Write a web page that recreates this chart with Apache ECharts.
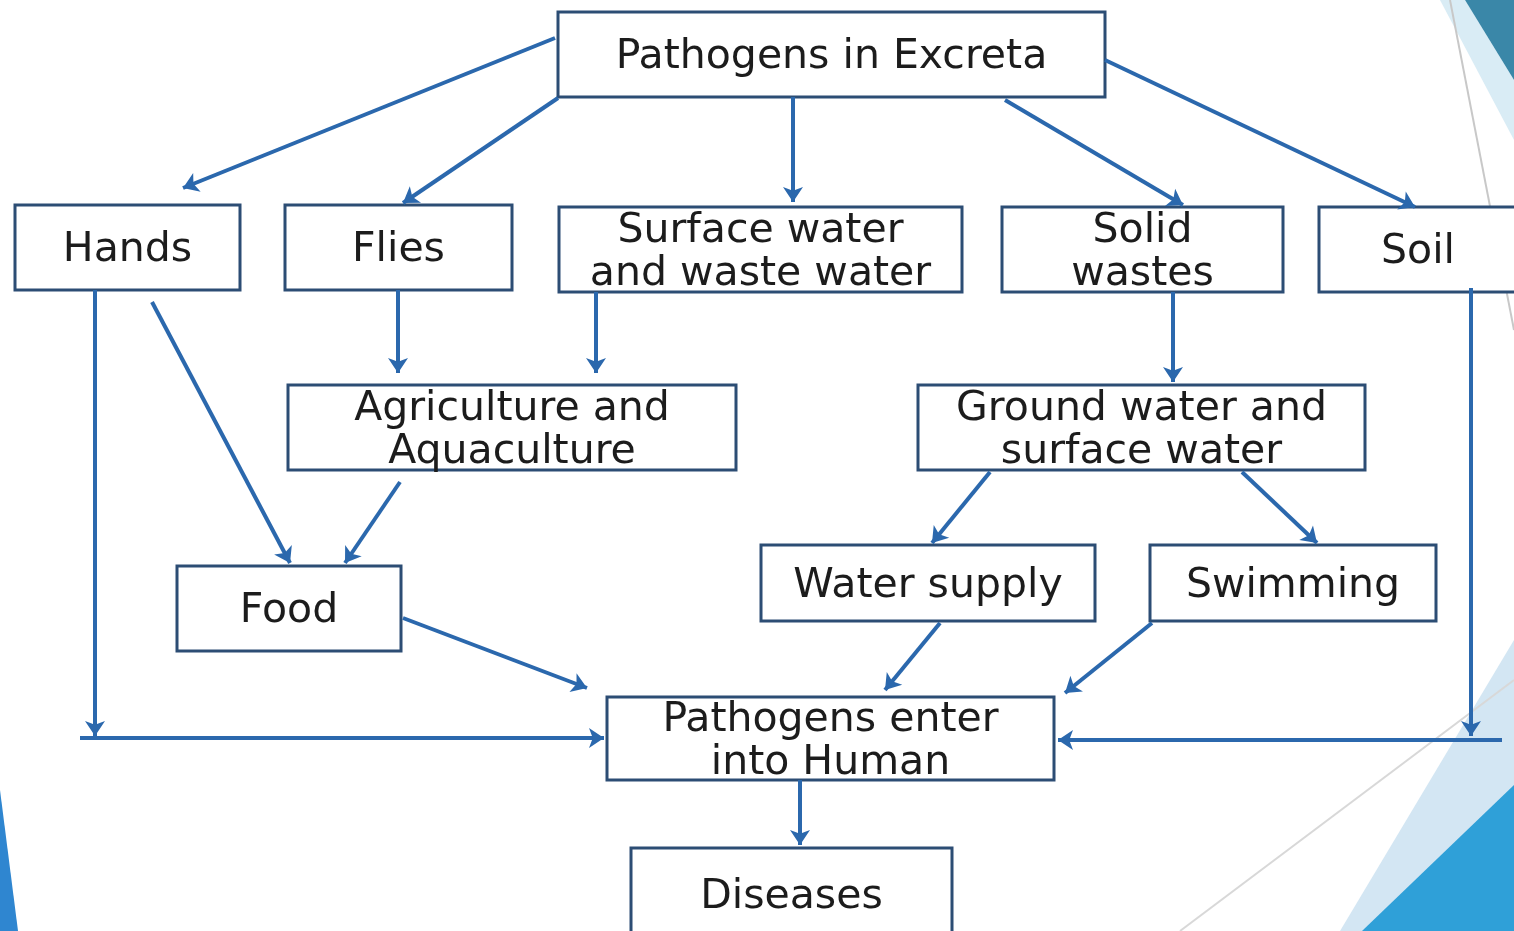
<!DOCTYPE html>
<html><head><meta charset="utf-8">
<script src="https://cdn.jsdelivr.net/npm/echarts@6/dist/echarts.min.js"></script>
<style>html,body{margin:0;padding:0;background:#fff}#c{width:1514px;height:931px}</style>
</head><body><div id="c"></div>
<script>
// ---- data ----
const nodeIds = ['excreta','hands','flies','surface','solid','soil','agri','ground','food','supply','swim','enter','disease'];
const nodeLabels = ['Pathogens in Excreta','Hands','Flies','Surface water\nand waste water','Solid\nwastes','Soil',
  'Agriculture and\nAquaculture','Ground water and\nsurface water','Food','Water supply','Swimming',
  'Pathogens enter\ninto Human','Diseases'];
const edgeFrom = ['excreta','excreta','excreta','excreta','excreta','hands','hands','flies','surface','solid','agri','ground','ground','food','supply','swim','soil','enter'];
const edgeTo   = ['hands','flies','surface','solid','soil','enter','food','agri','agri','ground','food','supply','swim','enter','enter','enter','enter','disease'];

// ---- layout (box corners in pixel space) ----
const boxLayout = {
  excreta:[558,12,1105,97], hands:[15,205,240,290], flies:[285,205,512,290],
  surface:[559,207,962,292], solid:[1002,207,1283,292], soil:[1319,207,1517,292],
  agri:[288,385,736,470], ground:[918,385,1365,470], food:[177,566,401,651],
  supply:[761,545,1095,621], swim:[1150,545,1436,621], enter:[607,697,1054,780],
  disease:[631,848,952,940]
};
// arrow routes per edge (same order as edges)
const arrowRoutes = [
  [[555,38],[183,188]],
  [[558,98],[403,203]],
  [[793,97],[793,202]],
  [[1005,100],[1183,205]],
  [[1105,60],[1415,207]],
  [[95,290],[95,736],[80,738],[604,738]],
  [[152,302],[290,563]],
  [[398,290],[398,373]],
  [[596,292],[596,373]],
  [[1173,292],[1173,382]],
  [[400,482],[345,563]],
  [[990,472],[932,543]],
  [[1242,472],[1317,543]],
  [[403,618],[587,688]],
  [[940,623],[885,690]],
  [[1152,623],[1065,693]],
  [[1471,288],[1471,736],[1502,740],[1058,740]],
  [[800,780],[800,845]]
];

const ARROW = '#2b68ad', BORDER = '#2c4d74', TEXT = '#1c1c1c';

// build arrow segments
const lineData = [];
arrowRoutes.forEach(r => {
  if (r.length === 2) lineData.push({coords: r});
  else {
    lineData.push({coords: [r[0], r[1]]});
    lineData.push({coords: [r[2], r[3]]});
  }
});

const boxData = nodeIds.map((id, i) => ({value: boxLayout[id], name: nodeLabels[i]}));

const chart = echarts.init(document.getElementById('c'), null, {renderer: 'canvas'});
chart.setOption({
  backgroundColor: '#ffffff',
  animation: false,
  graphic: [
    {type:'polygon', z:-10, shape:{points:[[1465,0],[1514,0],[1514,80]]}, style:{fill:'#3a87a8'}},
    {type:'polygon', z:-11, shape:{points:[[1440,0],[1465,0],[1514,80],[1514,140]]}, style:{fill:'#d9ecf5'}},
    {type:'line', z:-9, shape:{x1:1450,y1:0,x2:1514,y2:330}, style:{stroke:'#c8c8c8', lineWidth:2}},
    {type:'polygon', z:-11, shape:{points:[[1514,640],[1514,931],[1340,931]]}, style:{fill:'#d3e6f3'}},
    {type:'polygon', z:-10, shape:{points:[[1514,785],[1514,931],[1362,931]]}, style:{fill:'#2fa0d8'}},
    {type:'line', z:-9, shape:{x1:1180,y1:931,x2:1514,y2:680}, style:{stroke:'#d8d8d8', lineWidth:2}},
    {type:'polygon', z:-10, shape:{points:[[0,790],[0,931],[18,931]]}, style:{fill:'#2f86d0'}}
  ],
  grid: {left:0, right:0, top:0, bottom:0},
  xAxis: {type:'value', min:0, max:1514, show:false},
  yAxis: {type:'value', min:0, max:931, inverse:true, show:false},
  series: [
    {
      type: 'custom',
      coordinateSystem: 'cartesian2d',
      z: 2,
      data: boxData,
      renderItem: function (params, api) {
        const b = boxData[params.dataIndex].value;
        const p1 = api.coord([b[0], b[1]]);
        const p2 = api.coord([b[2], b[3]]);
        const label = boxData[params.dataIndex].name;
        return {
          type: 'group',
          children: [
            {type:'rect', shape:{x:p1[0], y:p1[1], width:p2[0]-p1[0], height:p2[1]-p1[1]},
             style:{fill:'#ffffff', stroke:BORDER, lineWidth:3}},
            {type:'text', style:{x:(p1[0]+p2[0])/2, y:(p1[1]+p2[1])/2 + 3, text: label,
              fill: TEXT, font: '41px "DejaVu Sans"', align:'center', verticalAlign:'middle', lineHeight: 43}}
          ]
        };
      }
    },
    {
      type: 'lines',
      coordinateSystem: 'cartesian2d',
      z: 3,
      symbol: ['none', 'arrow'],
      symbolSize: 15,
      lineStyle: {color: ARROW, width: 4, opacity: 1},
      data: lineData
    }
  ]
});
</script></body></html>
